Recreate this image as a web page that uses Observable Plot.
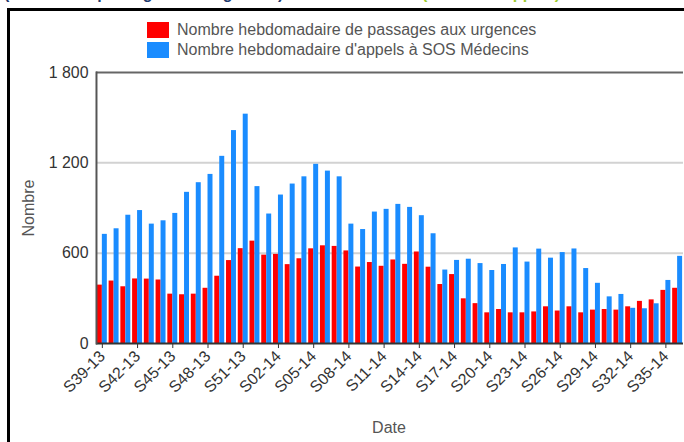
<!DOCTYPE html>
<html>
<head>
<meta charset="utf-8">
<script src="https://cdn.jsdelivr.net/npm/d3@7"></script>
<script src="https://cdn.jsdelivr.net/npm/@observablehq/plot@0.6"></script>
<style>
html, body { margin: 0; padding: 0; width: 684px; height: 442px; overflow: hidden; background: #fff; }
#wrap { position: relative; width: 684px; height: 442px; overflow: hidden; font-family: "Liberation Sans", Arial, sans-serif; }
#title { position: absolute; left: 4px; top: -15px; font: bold 16px "Liberation Sans", Arial, sans-serif; white-space: nowrap; line-height: 18px; }
#title .a { color: #1f3a6e; }
#title .b { color: #9ccc2e; }
#frame { position: absolute; left: 7px; top: 8px; width: 720px; height: 480px; border-left: 3px solid #000; border-top: 3px solid #000; }
.leg { position: absolute; left: 147px; height: 16px; font-size: 16px; color: #555; white-space: nowrap; line-height: 16px; }
.leg .sw { display: inline-block; width: 22px; height: 16px; vertical-align: top; margin-right: 8px; }
#chart { position: absolute; left: 0; top: 60px; }
#ylab { position: absolute; left: 29px; top: 208px; transform: translate(-50%, -50%) rotate(-90deg); font-size: 16px; color: #555; white-space: nowrap; }
#xlab { position: absolute; left: 389px; top: 428px; transform: translate(-50%, -50%); font-size: 16px; color: #555; }
</style>
</head>
<body>
<div id="wrap">
  <div id="title"><span class="a">(Nombre de passages aux urgences)</span> <span class="b">et SOS Médecins (nombre d'appels)</span></div>
  <div id="frame"></div>
  <div class="leg" style="top:22px"><span class="sw" id="sw0"></span><span id="lt0"></span></div>
  <div class="leg" style="top:42px"><span class="sw" id="sw1"></span><span id="lt1"></span></div>
  <div id="chart"></div>
  <div id="ylab">Nombre</div>
  <div id="xlab">Date</div>
</div>
<script>
const weeks = [
  "S39-13","S40-13","S41-13","S42-13","S43-13","S44-13","S45-13","S46-13","S47-13","S48-13",
  "S49-13","S50-13","S51-13","S52-13","S01-14","S02-14","S03-14","S04-14","S05-14","S06-14",
  "S07-14","S08-14","S09-14","S10-14","S11-14","S12-14","S13-14","S14-14","S15-14","S16-14",
  "S17-14","S18-14","S19-14","S20-14","S21-14","S22-14","S23-14","S24-14","S25-14","S26-14",
  "S27-14","S28-14","S29-14","S30-14","S31-14","S32-14","S33-14","S34-14","S35-14","S36-14"
];
const urgences = [
  388, 415, 377, 429, 428, 422, 328, 324, 328, 367,
  447, 551, 630, 680, 587, 592, 524, 563, 629, 649,
  645, 615, 508, 538, 513, 555, 526, 608, 507, 392,
  458, 297, 265, 204, 226, 204, 204, 210, 244, 216,
  244, 204, 222, 226, 222, 244, 280, 290, 353, 367
];
const sosMedecins = [
  725, 762, 852, 883, 793, 815, 864, 1004, 1068, 1123,
  1243, 1414, 1523, 1042, 860, 986, 1059, 1107, 1190, 1145,
  1107, 793, 757, 873, 891, 924, 904, 849, 729, 488,
  552, 560, 531, 485, 525, 635, 541, 627, 567, 604,
  628, 498, 400, 310, 326, 234, 231, 264, 419, 579
];
const seriesNames = ["Nombre hebdomadaire de passages aux urgences", "Nombre hebdomadaire d'appels à SOS Médecins"];
const seriesColors = ["#ff0000", "#1a8cff"];
const xTickLabels = ["S39-13","S42-13","S45-13","S48-13","S51-13","S02-14","S05-14","S08-14","S11-14","S14-14","S17-14","S20-14","S23-14","S26-14","S29-14","S32-14","S35-14"];
const yTicks = [0, 600, 1200, 1800];

const rows = weeks.map((w, i) => ({week: w, urgences: urgences[i], sos: sosMedecins[i]}));

document.getElementById("sw0").style.background = seriesColors[0];
document.getElementById("sw1").style.background = seriesColors[1];
document.getElementById("lt0").textContent = seriesNames[0];
document.getElementById("lt1").textContent = seriesNames[1];

const fr = d3.formatLocale({decimal: ",", thousands: " ", grouping: [3], currency: ["", " €"]});
const fmt = fr.format(",");

const W = 687, mL = 96.4, mR = 1;
const step = (W - mL - mR) / weeks.length;

const chart = Plot.plot({
  width: W,
  height: 382,
  marginLeft: mL,
  marginRight: mR,
  marginTop: 12,
  marginBottom: 97.7,
  style: {fontFamily: "Liberation Sans, Arial, sans-serif", color: "#333", background: "transparent", overflow: "visible"},
  x: {type: "band", domain: weeks, padding: 0, round: false},
  y: {domain: [0, 1800], round: false},
  marks: [
    Plot.ruleY(yTicks.filter(d => d > 0 && d < 1800), {stroke: "#d2d2d2", strokeWidth: 2}),
    Plot.barY(rows, {x: "week", y: "urgences", fill: seriesColors[0], insetLeft: 0.9, insetRight: step / 2}),
    Plot.barY(rows, {x: "week", y: "sos", fill: seriesColors[1], insetLeft: step / 2, insetRight: 0.9}),
    Plot.ruleY([1800], {stroke: "#666", strokeWidth: 2}),
    Plot.ruleY([0], {stroke: "#333", strokeWidth: 2}),
    Plot.frame({anchor: "left", stroke: "#555", strokeWidth: 2}),
    Plot.axisY(yTicks, {tickSize: 0, tickPadding: 8, tickFormat: fmt, label: null, fontSize: 16, fill: "#333"}),
    Plot.axisX(xTickLabels, {tickSize: 5, tickPadding: 5, tickRotate: -45, label: null, fontSize: 16, fill: "#333", stroke: "#333"})
  ]
});
document.getElementById("chart").appendChild(chart);
</script>
</body>
</html>
